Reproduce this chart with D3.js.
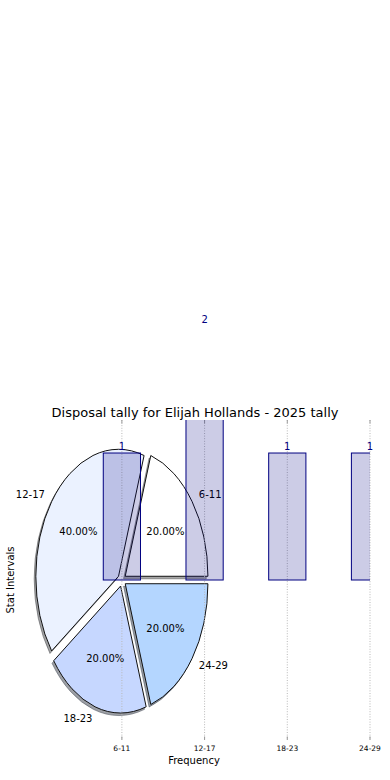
<!DOCTYPE html>
<html>
<head>
<meta charset="utf-8">
<script src="https://cdn.jsdelivr.net/npm/d3@7"></script>
<style>
    body { margin: 0; background: #fff; }
    svg { display: block; font-family: "DejaVu Sans", sans-serif; }
</style>
</head>
<body>
<svg id="chart"></svg>
<script>
const width = 390, height = 780;

// data
const categories = ["6-11", "12-17", "18-23", "24-29"];
const counts = [1, 2, 1, 1];
const pieShares = [20, 40, 20, 20]; // percent per interval
const pieColors = ["#ffffff", "#ebf2ff", "#c6d7ff", "#b4d6ff"];
const chartTitle = "Disposal tally for Elijah Hollands - 2025 tally";

const svg = d3.select("#chart")
    .attr("width", width)
    .attr("height", height);

// axes box in pixels
const plotLeft = 18.5, plotRight = 370, plotTop = 420, plotBottom = 740;

const x = d3.scaleLinear().domain([-1.25, 3]).range([plotLeft, plotRight]);
const y = d3.scaleLinear().domain([-1.26, 1.26]).range([plotBottom, plotTop]);

const kx = x(1) - x(0);
const ky = y(0) - y(1);

svg.append("defs").append("clipPath")
    .attr("id", "plot-clip")
    .append("rect")
    .attr("x", plotLeft).attr("y", plotTop)
    .attr("width", plotRight - plotLeft).attr("height", plotBottom - plotTop);

// --- pie (drawn in data coords, so it is stretched like the axes) ---
// slices go counter-clockwise from 3 o'clock, like matplotlib
const pie = d3.pie()
    .sort(null)
    .value(d => d)
    .startAngle(Math.PI / 2)
    .endAngle(Math.PI / 2 - 2 * Math.PI);

const arc = d3.arc().innerRadius(0).outerRadius(1);
const slices = pie(pieShares);
const explode = 0.05;

// angle (ccw from 3 o'clock) of the slice middle
function midTheta(s) {
    return Math.PI / 2 - (s.startAngle + s.endAngle) / 2;
}

function sliceTransform(s, dx, dy) {
    const t = midTheta(s);
    const cx = x(explode * Math.cos(t)) + dx;
    const cy = y(explode * Math.sin(t)) + dy;
    return `translate(${cx},${cy}) scale(${kx},${ky})`;
}

function shade(c) {
    const rgb = d3.rgb(c);
    return d3.rgb(rgb.r * 0.3, rgb.g * 0.3, rgb.b * 0.3).toString();
}

const pieG = svg.append("g").attr("clip-path", "url(#plot-clip)");

// shadows first
pieG.selectAll("path.shadow")
    .data(slices)
    .join("path")
    .attr("class", "shadow")
    .attr("d", arc)
    .attr("transform", s => sliceTransform(s, -0.02 * kx, 0.02 * ky))
    .attr("fill", (s, i) => shade(pieColors[i]))
    .attr("fill-opacity", 0.5)
    .attr("stroke", (s, i) => shade(pieColors[i]))
    .attr("stroke-opacity", 0.5)
    .attr("stroke-width", 1)
    .attr("vector-effect", "non-scaling-stroke");

pieG.selectAll("path.wedge")
    .data(slices)
    .join("path")
    .attr("class", "wedge")
    .attr("d", arc)
    .attr("transform", s => sliceTransform(s, 0, 0))
    .attr("fill", (s, i) => pieColors[i])
    .attr("stroke", "#111")
    .attr("stroke-width", 1)
    .attr("vector-effect", "non-scaling-stroke");

// outer labels at 1.1 radius, percentages at 0.6
svg.selectAll("text.pie-label")
    .data(slices)
    .join("text")
    .attr("class", "pie-label")
    .attr("x", s => x((1.1 + explode) * Math.cos(midTheta(s))))
    .attr("y", s => y((1.1 + explode) * Math.sin(midTheta(s))))
    .attr("dy", "0.36em")
    .attr("text-anchor", s => Math.cos(midTheta(s)) > 0 ? "start" : "end")
    .attr("font-size", 10)
    .attr("fill", "#000")
    .text((s, i) => categories[i]);

svg.selectAll("text.pct")
    .data(slices)
    .join("text")
    .attr("class", "pct")
    .attr("x", s => x((0.6 + explode) * Math.cos(midTheta(s))))
    .attr("y", s => y((0.6 + explode) * Math.sin(midTheta(s))))
    .attr("dy", "0.36em")
    .attr("text-anchor", "middle")
    .attr("font-size", 10)
    .attr("fill", "#000")
    .text(s => (s.value).toFixed(2) + "%");

// --- grid and ticks ---
const ticks = categories.map((c, i) => i);

svg.append("g")
    .selectAll("line")
    .data(ticks)
    .join("line")
    .attr("x1", d => x(d)).attr("x2", d => x(d))
    .attr("y1", plotTop).attr("y2", plotBottom)
    .attr("stroke", "#b8b8b8")
    .attr("stroke-width", 1)
    .attr("stroke-dasharray", "1,1.6");

const tickG = svg.append("g");
tickG.selectAll("line.bt")
    .data(ticks)
    .join("line")
    .attr("class", "bt")
    .attr("x1", d => x(d)).attr("x2", d => x(d))
    .attr("y1", plotBottom - 3.5).attr("y2", plotBottom)
    .attr("stroke", "#999");
tickG.selectAll("line.tt")
    .data(ticks)
    .join("line")
    .attr("class", "tt")
    .attr("x1", d => x(d)).attr("x2", d => x(d))
    .attr("y1", plotTop).attr("y2", plotTop + 3.5)
    .attr("stroke", "#999");

svg.append("g")
    .selectAll("text")
    .data(categories)
    .join("text")
    .attr("x", (d, i) => x(i))
    .attr("y", plotBottom + 8)
    .attr("dy", "0.36em")
    .attr("text-anchor", "middle")
    .attr("font-size", 7.5)
    .attr("fill", "#000")
    .text(d => d);

// --- bars ---
const barW = 0.45;
svg.append("g")
    .attr("clip-path", "url(#plot-clip)")
    .selectAll("rect")
    .data(counts)
    .join("rect")
    .attr("x", (d, i) => x(i - barW / 2))
    .attr("width", x(barW) - x(0))
    .attr("y", d => y(d))
    .attr("height", d => y(0) - y(d))
    .attr("fill", "navy")
    .attr("fill-opacity", 0.2)
    .attr("stroke", "navy")
    .attr("stroke-width", 1);

svg.append("g")
    .selectAll("text")
    .data(counts)
    .join("text")
    .attr("x", (d, i) => x(i))
    .attr("y", d => y(d) - 3)
    .attr("text-anchor", "middle")
    .attr("font-size", 10)
    .attr("fill", "navy")
    .text(d => d);

// --- titles ---
svg.append("text")
    .attr("x", width / 2)
    .attr("y", plotTop - 3)
    .attr("text-anchor", "middle")
    .attr("font-size", 13)
    .attr("fill", "#000")
    .text(chartTitle);

svg.append("text")
    .attr("x", 194)
    .attr("y", 764)
    .attr("text-anchor", "middle")
    .attr("font-size", 10)
    .text("Frequency");

svg.append("text")
    .attr("transform", `translate(14, ${(plotTop + plotBottom) / 2}) rotate(-90)`)
    .attr("text-anchor", "middle")
    .attr("font-size", 10)
    .text("Stat Intervals");
</script>
</body>
</html>
